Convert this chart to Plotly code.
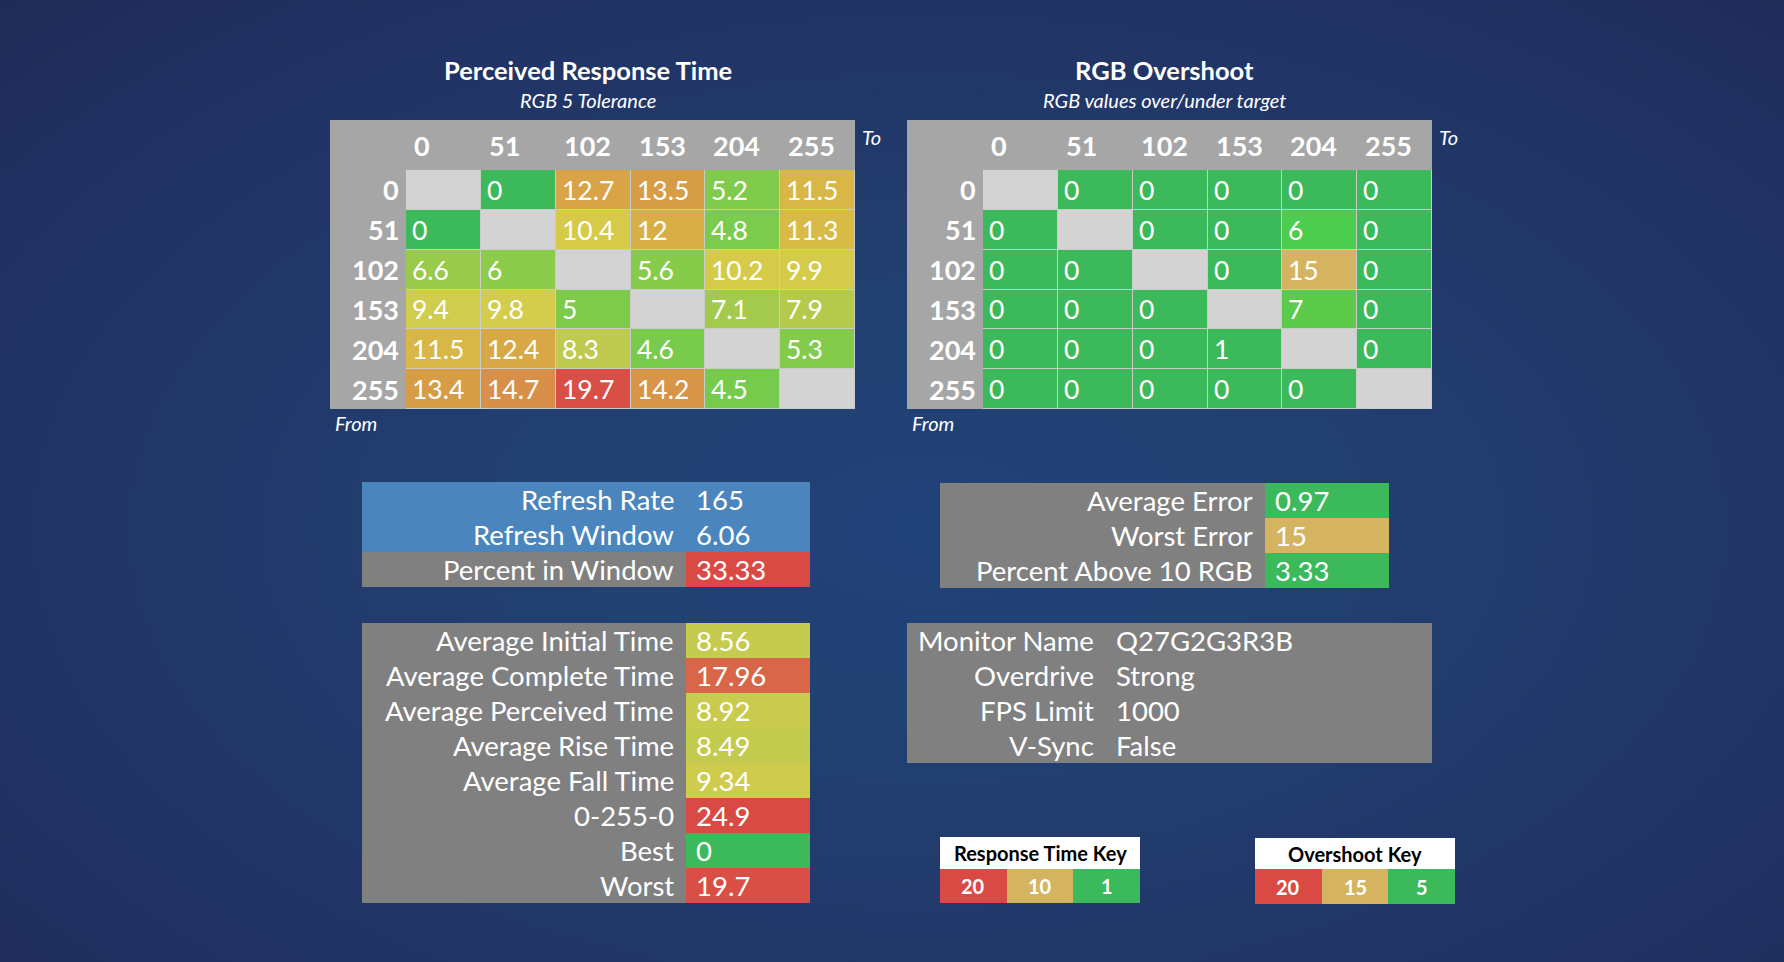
import plotly.graph_objects as go

W, H = 1784, 962
FONT = "Lato"

# ---------------- data ----------------
levels = ["0", "51", "102", "153", "204", "255"]

# perceived response time (ms), rows = from, columns = to
response_times = [
    [None, 0, 12.7, 13.5, 5.2, 11.5],
    [0, None, 10.4, 12, 4.8, 11.3],
    [6.6, 6, None, 5.6, 10.2, 9.9],
    [9.4, 9.8, 5, None, 7.1, 7.9],
    [11.5, 12.4, 8.3, 4.6, None, 5.3],
    [13.4, 14.7, 19.7, 14.2, 4.5, None],
]

# RGB overshoot, rows = from, columns = to
overshoot = [
    [None, 0, 0, 0, 0, 0],
    [0, None, 0, 0, 6, 0],
    [0, 0, None, 0, 15, 0],
    [0, 0, 0, None, 7, 0],
    [0, 0, 0, 1, None, 0],
    [0, 0, 0, 0, 0, None],
]

refresh_labels = ["Refresh Rate", "Refresh Window", "Percent in Window"]
refresh_values = [165, 6.06, 33.33]
refresh_info_rows = [True, True, False]

error_labels = ["Average Error", "Worst Error", "Percent Above 10 RGB"]
error_values = [0.97, 15, 3.33]

stat_labels = ["Average Initial Time", "Average Complete Time", "Average Perceived Time",
               "Average Rise Time", "Average Fall Time", "0-255-0", "Best", "Worst"]
stat_values = [8.56, 17.96, 8.92, 8.49, 9.34, 24.9, 0, 19.7]

monitor_labels = ["Monitor Name", "Overdrive", "FPS Limit", "V-Sync"]
monitor_values = ["Q27G2G3R3B", "Strong", "1000", "False"]

rt_key = [20, 10, 1]
os_key = [20, 15, 5]

# ---------------- colour scales ----------------
RT_STOPS = [(0, "#3cb95a"), (1, "#3cb95a"), (4.5, "#77cb4c"), (6, "#8dcb4b"), (7.5, "#abc94c"),
            (8.5, "#c3cb4e"), (9.6, "#d3cc4d"), (10.4, "#d6ca48"), (11.4, "#d8b947"),
            (12.5, "#d8a647"), (13.5, "#d79c46"), (14.5, "#d8924a"), (18, "#d8664a"), (20, "#d94a44")]
OS_STOPS = [(0, "#3cb95a"), (5, "#3cb95a"), (6, "#4ccd4f"), (7, "#5ccb4c"), (15, "#d5b461"), (20, "#d94a44")]
RT_KEY_STOPS = [(1, "#3cb95a"), (10, "#d5b461"), (20, "#d94a44")]
OS_KEY_STOPS = [(5, "#3cb95a"), (15, "#d5b461"), (20, "#d94a44")]

GRAY = "#808080"
FRAME = "#a6a6a6"
DIAG = "#d3d3d3"
BLUE = "#4a86bd"


def scale(stops):
    lo, hi = stops[0][0], stops[-1][0]
    return [[(v - lo) / (hi - lo), c] for v, c in stops]


def fmt(v):
    return f"{v:g}" if isinstance(v, (int, float)) else str(v)


def flat(c):
    return [[0, c], [1, c]]


fig = go.Figure()
annotations = []
n_axes = [0]


def px(x):
    return x / W


def py(y):
    return 1 - y / H


def add_axes(x0, x1, y0, y1, xrange, nrows, xtype="linear"):
    n_axes[0] += 1
    k = n_axes[0]
    s = "" if k == 1 else str(k)
    xa = dict(domain=[px(x0), px(x1)], anchor="y" + s, visible=False, fixedrange=True,
              type=xtype, range=xrange, autorange=False)
    ya = dict(domain=[py(y1), py(y0)], anchor="x" + s, visible=False, fixedrange=True,
              type="category", range=[nrows - 0.5, -0.5], autorange=False)
    fig.update_layout({"xaxis" + s: xa, "yaxis" + s: ya})
    return "x" + s, "y" + s


def rect(x0, y0, x1, y1, color):
    fig.add_shape(type="rect", xref="paper", yref="paper", x0=px(x0), x1=px(x1),
                  y0=py(y1), y1=py(y0), fillcolor=color, line_width=0, layer="below")


def text(s, x, y, xref="paper", yref="paper", size=24, color="white", weight="normal",
         style="normal", xanchor="left", xshift=0):
    annotations.append(dict(text=s, x=x, y=y, xref=xref, yref=yref, showarrow=False,
                            xanchor=xanchor, yanchor="middle", xshift=xshift,
                            font=dict(family=FONT, size=size, color=color, weight=weight, style=style)))


# ---------------- background ----------------
N_RINGS = 32
for i in range(N_RINGS):
    r = 1 - i / N_RINGS
    fig.add_shape(type="circle", xref="paper", yref="paper",
                  x0=0.52 - 0.8 * r, x1=0.52 + 0.8 * r, y0=0.45 - 0.85 * r, y1=0.45 + 0.85 * r,
                  fillcolor="#3a5c95", opacity=0.032, line_width=0, layer="below")


# ---------------- matrices ----------------
def add_grid(values, stops, fx0, fy0, cx0, cy0, cx1, cy1, title, subtitle):
    xr, yr = add_axes(cx0, cx1, cy0, cy1, [-0.5, len(levels) - 0.5], len(levels), "category")
    rect(fx0, fy0, cx1, cy1, FRAME)
    rect(cx0, cy0, cx1, cy1, "#c8cdc8")
    diag = [[1 if v is None else None for v in row] for row in values]
    fig.add_trace(go.Heatmap(x=levels, y=levels, z=diag, colorscale=flat(DIAG), showscale=False,
                             xgap=1, ygap=1, hoverinfo="skip", xaxis=xr, yaxis=yr))
    fig.add_trace(go.Heatmap(x=levels, y=levels, z=values, colorscale=scale(stops),
                             zmin=stops[0][0], zmax=stops[-1][0], showscale=False,
                             xgap=1, ygap=1, xaxis=xr, yaxis=yr,
                             hovertemplate="%{y} → %{x}: %{z}<extra></extra>"))
    for j, lv in enumerate(levels):
        text(lv, j - 0.5, py((fy0 + cy0) / 2 + 1), xref=xr, size=27, weight="bold", xshift=6)
        text(lv, -0.5, j, xref=xr, yref=yr, size=27, weight="bold", xanchor="right", xshift=-5)
    for i, row in enumerate(values):
        for j, v in enumerate(row):
            if v is not None:
                text(fmt(v), j - 0.5, i, xref=xr, yref=yr, size=26.5, xshift=4)
    cx = (fx0 + cx1) / 2 - 5
    text(title, px(cx), py(fy0 - 50), size=25.5, weight="bold", xanchor="center")
    text(subtitle, px(cx), py(fy0 - 20), size=20, style="italic", xanchor="center")
    text("To", px(cx1 + 5), py(fy0 + 17), size=20, style="italic")
    text("From", px(fx0 + 3), py(cy1 + 14), size=20, style="italic")


add_grid(response_times, RT_STOPS, 330, 120, 406, 170, 855, 409,
         "Perceived Response Time", "RGB 5 Tolerance")
add_grid(overshoot, OS_STOPS, 907, 120, 983, 170, 1432, 409,
         "RGB Overshoot", "RGB values over/under target")


# ---------------- stat boxes ----------------
def add_box(labels, values, x0, xd, x1, y0, y1, layers, lshift=-10, vshift=8):
    xr, yr = add_axes(x0, x1, y0, y1, [0, x1 - x0], len(labels))
    edges = [0, xd - x0, x1 - x0]
    for z, cs, zmin, zmax in layers:
        fig.add_trace(go.Heatmap(x=edges, y=labels, z=z, colorscale=cs, zmin=zmin, zmax=zmax,
                                 showscale=False, hoverinfo="skip", xaxis=xr, yaxis=yr))
    for lab, v in zip(labels, values):
        text(lab, xd - x0, lab, xref=xr, yref=yr, size=27.5, xanchor="right", xshift=lshift)
        text(fmt(v), xd - x0, lab, xref=xr, yref=yr, size=27.5, xshift=vshift)


rt_lo, rt_hi = RT_STOPS[0][0], RT_STOPS[-1][0]
os_lo, os_hi = OS_STOPS[0][0], OS_STOPS[-1][0]

add_box(refresh_labels, refresh_values, 362, 686, 810, 482, 587, [
    ([[1, None] for _ in refresh_labels], flat(GRAY), 0, 1),
    ([[1, 1] if b else [None, None] for b in refresh_info_rows], flat(BLUE), 0, 1),
    ([[None, None if b else v] for v, b in zip(refresh_values, refresh_info_rows)],
     scale(RT_STOPS), rt_lo, rt_hi),
])

add_box(error_labels, error_values, 940, 1265, 1389, 483, 588, [
    ([[1, None] for _ in error_labels], flat(GRAY), 0, 1),
    ([[None, v] for v in error_values], scale(OS_STOPS), os_lo, os_hi),
])

add_box(stat_labels, stat_values, 362, 686, 810, 623, 903, [
    ([[1, None] for _ in stat_labels], flat(GRAY), 0, 1),
    ([[None, v] for v in stat_values], scale(RT_STOPS), rt_lo, rt_hi),
])

add_box(monitor_labels, monitor_values, 907, 1105, 1432, 623, 763, [
    ([[1, 1] for _ in monitor_labels], flat(GRAY), 0, 1),
], lshift=-9, vshift=9)


# ---------------- keys ----------------
def add_key(title, keys, stops, x0, x1, y0, yh, y1):
    xr, yr = add_axes(x0, x1, yh, y1, [-0.5, len(keys) - 0.5], 1, "category")
    rect(x0, y0, x1, yh, "white")
    cats = [str(k) for k in keys]
    fig.add_trace(go.Heatmap(x=cats, y=["key"], z=[keys], colorscale=scale(stops),
                             zmin=stops[0][0], zmax=stops[-1][0], showscale=False,
                             hoverinfo="skip", xaxis=xr, yaxis=yr))
    for j, c in enumerate(cats):
        text(c, j, 0, xref=xr, yref=yr, size=20, weight="bold", xanchor="center")
    text(title, px((x0 + x1) / 2), py((y0 + yh) / 2), size=20, weight="bold",
         color="black", xanchor="center")


add_key("Response Time Key", rt_key, RT_KEY_STOPS, 940, 1140, 837, 869, 903)
add_key("Overshoot Key", os_key, OS_KEY_STOPS, 1255, 1455, 838, 869, 904)

fig.update_layout(
    width=W, height=H, autosize=False,
    margin=dict(l=0, r=0, t=0, b=0),
    paper_bgcolor="#1b2850",
    plot_bgcolor="rgba(0,0,0,0)",
    showlegend=False,
    annotations=annotations,
    font=dict(family=FONT, color="white"),
)

fig.write_html("out.html", config={"displayModeBar": False},
               post_script="document.body.style.margin='0';document.body.style.overflow='hidden';")
